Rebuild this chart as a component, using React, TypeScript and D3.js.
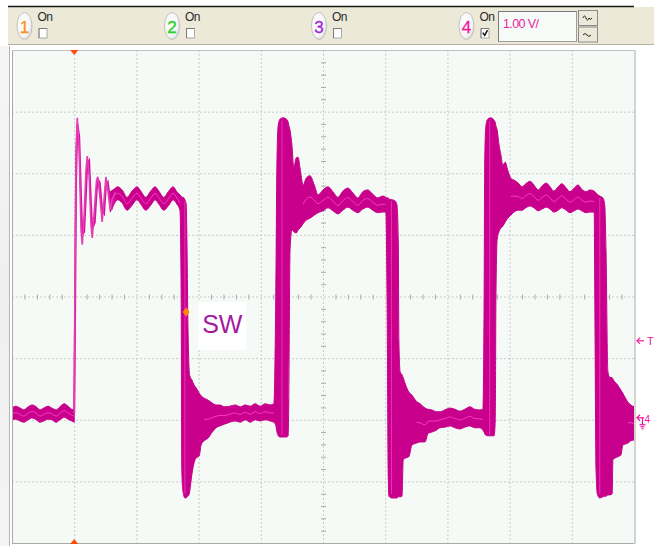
import React from "react";
import * as d3 from "d3";

// ---------- layout ----------
const W = 654;
const H = 546;
const plotLeft = 12;
const plotRight = 634;
const plotTop = 50;
const plotBottom = 543;

// ---------- axes (scope divisions: 10 horizontal, 8 vertical at 1.00 V/div) ----------
const timeDivs = [0, 1, 2, 3, 4, 5, 6, 7, 8, 9, 10];
const voltLevels = [-2, -1, 0, 1, 2, 3, 4, 5, 6];

// ---------- channel 4 data (time in divisions, volts) ----------
// low level before first switching edge (persistence band)
const lowT = [0.0, 0.06, 0.13, 0.19, 0.26, 0.32, 0.39, 0.45, 0.51, 0.58, 0.64, 0.71, 0.77, 0.84, 0.9, 0.96, 1.0];
const lowHi = [0.19, 0.22, 0.19, 0.16, 0.21, 0.24, 0.21, 0.16, 0.19, 0.22, 0.19, 0.16, 0.21, 0.26, 0.22, 0.17, 0.16];
const lowLo = [0.0, 0.01, -0.02, -0.04, 0.0, 0.03, 0.0, -0.04, -0.02, 0.01, 0.0, -0.04, 0.0, 0.04, 0.01, -0.02, -0.04];

// first rising edge: thin ringing traces
const ringT = [1.0, 1.01, 1.03, 1.05, 1.08, 1.11, 1.13, 1.16, 1.19, 1.21, 1.24, 1.27, 1.29, 1.33, 1.36, 1.38, 1.41, 1.45, 1.48, 1.51, 1.54, 1.58, 1.61, 1.66];
const ringA = [0.11, 1.94, 4.38, 4.9, 4.38, 3.08, 2.84, 3.32, 4.05, 4.28, 3.97, 3.16, 2.95, 3.48, 3.89, 3.94, 3.65, 3.21, 3.57, 3.94, 3.73, 3.4, 3.57, 3.7];
const ringB = [0.11, 1.2, 3.9, 4.8, 4.6, 3.6, 3.0, 3.05, 3.7, 4.15, 4.2, 3.5, 3.1, 3.2, 3.7, 3.9, 3.85, 3.4, 3.35, 3.8, 3.85, 3.55, 3.45, 3.6];

// persistence envelope from the first high level to the end of the record
const envT = [
  1.58, 1.64, 1.7, 1.77, 1.85, 1.93, 2.01, 2.07, 2.15, 2.23, 2.3, 2.36, 2.44, 2.52, 2.59, 2.65, 2.7,
  2.72, 2.73, 2.75, 2.78, 2.8, 2.81, 2.83, 2.85, 2.86, 2.89, 2.93, 2.96, 3.01, 3.04, 3.09, 3.15, 3.22,
  3.28, 3.34, 3.42, 3.5, 3.59, 3.67, 3.75, 3.83, 3.91, 3.99, 4.07, 4.15, 4.21,
  4.24, 4.26, 4.28, 4.31, 4.36, 4.41, 4.44, 4.45, 4.47, 4.5, 4.53, 4.57, 4.6, 4.63, 4.68, 4.73, 4.79,
  4.86, 4.92, 5.0, 5.08, 5.16, 5.24, 5.32, 5.4, 5.48, 5.56, 5.64, 5.72, 5.8, 5.88, 5.96, 6.01,
  6.03, 6.05, 6.06, 6.11, 6.16, 6.19, 6.21, 6.22, 6.24, 6.27, 6.29, 6.33, 6.38, 6.43, 6.5, 6.56,
  6.64, 6.69, 6.75, 6.82, 6.88, 6.96, 7.04, 7.12, 7.2, 7.28, 7.36, 7.44, 7.52, 7.57,
  7.59, 7.6, 7.62, 7.65, 7.7, 7.75, 7.77, 7.78, 7.8, 7.83, 7.86, 7.89, 7.93, 7.97, 8.02, 8.07,
  8.14, 8.2, 8.26, 8.33, 8.39, 8.46, 8.52, 8.59, 8.65, 8.71, 8.78, 8.84, 8.91, 8.97, 9.04, 9.1,
  9.16, 9.23, 9.29, 9.36, 9.37, 9.39, 9.41, 9.45, 9.5, 9.53, 9.55, 9.58, 9.61, 9.65, 9.66, 9.74,
  9.79, 9.82, 9.9, 9.95, 10.0,
];
const envHi = [
  3.7, 3.74, 3.78, 3.73, 3.61, 3.71, 3.78, 3.71, 3.61, 3.71, 3.78, 3.71, 3.61, 3.71, 3.78, 3.7, 3.65,
  3.63, 3.61, 3.61, 3.57, 3.5, 3.08, 1.46, 0.78, 0.71, 0.65, 0.56, 0.52, 0.43, 0.39, 0.35, 0.32, 0.27,
  0.24, 0.24, 0.21, 0.22, 0.24, 0.21, 0.24, 0.22, 0.26, 0.22, 0.26, 0.24, 0.26,
  1.94, 4.22, 4.78, 4.88, 4.9, 4.88, 4.83, 4.78, 4.7, 4.46, 4.09, 4.25, 4.26, 4.09, 3.81, 3.92, 3.96,
  3.81, 3.65, 3.73, 3.78, 3.7, 3.61, 3.71, 3.76, 3.68, 3.6, 3.7, 3.73, 3.66, 3.6, 3.63, 3.61,
  3.6, 3.6, 3.58, 3.57, 3.55, 3.48, 2.92, 1.29, 0.78, 0.73, 0.68, 0.56, 0.45, 0.4, 0.3, 0.26,
  0.19, 0.17, 0.16, 0.13, 0.13, 0.16, 0.19, 0.17, 0.14, 0.17, 0.21, 0.17, 0.16, 0.17,
  1.94, 4.22, 4.78, 4.88, 4.9, 4.86, 4.82, 4.77, 4.7, 4.46, 4.3, 4.13, 4.18, 4.05, 3.92, 3.89,
  3.84, 3.78, 3.83, 3.87, 3.81, 3.73, 3.79, 3.84, 3.78, 3.71, 3.78, 3.83, 3.76, 3.7, 3.76, 3.81,
  3.74, 3.7, 3.73, 3.71, 3.7, 3.68, 3.66, 3.63, 3.6, 3.48, 2.75, 0.78, 0.69, 0.68, 0.66, 0.56,
  0.48, 0.43, 0.29, 0.24, 0.21,
];
const envLo = [
  3.37, 3.5, 3.57, 3.52, 3.4, 3.48, 3.57, 3.5, 3.4, 3.48, 3.57, 3.5, 3.4, 3.48, 3.57, 3.5, 3.4,
  1.94, -0.82, -1.17, -1.27, -1.27, -1.25, -1.24, -1.2, -1.14, -0.9, -0.69, -0.62, -0.59, -0.41, -0.34, -0.3, -0.2,
  -0.13, -0.1, -0.07, -0.04, -0.02, -0.04, 0.0, -0.04, 0.0, -0.02, 0.0, -0.02, -0.04,
  -0.09, -0.2, -0.26, -0.28, -0.28, -0.28, -0.26, 0.32, 2.75, 3.08, 3.05, 3.03, 3.08, 3.11, 3.18, 3.24, 3.27,
  3.32, 3.36, 3.39, 3.44, 3.39, 3.34, 3.4, 3.45, 3.4, 3.36, 3.42, 3.45, 3.4, 3.36, 3.37, 3.37,
  1.94, -0.98, -1.24, -1.27, -1.27, -1.27, -1.25, -1.25, -1.25, -1.24, -0.65, -0.62, -0.6, -0.41, -0.38, -0.36,
  -0.36, -0.22, -0.2, -0.17, -0.13, -0.12, -0.1, -0.13, -0.15, -0.12, -0.1, -0.13, -0.13, -0.17,
  -0.2, -0.23, -0.25, -0.26, -0.26, -0.26, 0.0, 1.94, 2.92, 3.05, 3.11, 3.14, 3.21, 3.27, 3.32, 3.37,
  3.4, 3.4, 3.44, 3.47, 3.44, 3.39, 3.42, 3.45, 3.42, 3.37, 3.4, 3.44, 3.4, 3.36, 3.39, 3.42,
  3.39, 3.36, 3.37, 3.37, 1.94, -0.82, -1.2, -1.27, -1.25, -1.24, -1.24, -1.22, -1.22, -1.2, -0.65, -0.6,
  -0.57, -0.41, -0.38, -0.34, -0.33,
];

// faint single-shot edge traces inside the persistence band
const edgeT = [2.78, 4.34, 6.1, 7.68, 9.45];
const edgeTop = [3.55, 4.85, 3.55, 4.85, 3.6];
const edgeBottom = [-1.2, -0.25, -1.2, -0.25, -1.2];

// ---------- toolbar / annotations ----------
const channelNames = ["1", "2", "3", "4"];
const channelColors = ["#F7931E", "#1ED21E", "#A21FD8", "#F0169C"];
const channelOn = [false, false, false, true];
const channelCx = [24.5, 172, 319, 466.5];
const voltsPerDivLabel = "1.00 V/";
const probeLabel = "SW";
const probeT = 2.8;
const probeV = 1.75;
const triggerT = 1.0;
const triggerLevelV = 1.28;
const groundV = 0;

const FONT = "'Liberation Sans', Arial, sans-serif";
const BAND = "#C8008C";
const LIGHT = "#FF45CC";

export default function App() {
  const x = d3.scaleLinear().domain([0, 10]).range([plotLeft, plotRight]);
  const y = d3.scaleLinear().domain([-2, 6]).range([plotBottom, plotTop]);

  const lowIdx = lowT.map((_, i) => i);
  const envIdx = envT.map((_, i) => i);
  const ringIdx = ringT.map((_, i) => i);

  const lowArea = d3
    .area<number>()
    .x((i) => x(lowT[i]))
    .y0((i) => y(lowLo[i]))
    .y1((i) => y(lowHi[i]))
    .curve(d3.curveMonotoneX);
  const envArea = d3
    .area<number>()
    .x((i) => x(envT[i]))
    .y0((i) => y(envLo[i]))
    .y1((i) => y(envHi[i]))
    .curve(d3.curveMonotoneX);
  const lowMid = d3
    .line<number>()
    .x((i) => x(lowT[i]))
    .y((i) => y((lowHi[i] + lowLo[i]) / 2))
    .curve(d3.curveMonotoneX);
  const envMid = d3
    .line<number>()
    .defined((i) => envHi[i] - envLo[i] < 0.7)
    .x((i) => x(envT[i]))
    .y((i) => y((envHi[i] + envLo[i]) / 2))
    .curve(d3.curveMonotoneX);
  const ringLineA = d3
    .line<number>()
    .x((i) => x(ringT[i]))
    .y((i) => y(ringA[i]));
  const ringLineB = d3
    .line<number>()
    .x((i) => x(ringT[i]))
    .y((i) => y(ringB[i]));

  const xc = x(5);
  const yc = y(2);
  const minorT = d3.range(0, 10.001, 0.2);
  const minorV = d3.range(-2, 6.001, 0.2);

  const tx = x(triggerT);
  const px = x(probeT);
  const py = y(probeV);
  const ty = y(triggerLevelV);
  const gy = y(groundV);

  return (
    <svg
      width={W}
      height={H}
      viewBox={`0 0 ${W} ${H}`}
      style={{ position: "absolute", left: 0, top: 0, display: "block", background: "#fff" }}
      fontFamily={FONT}
    >
      <defs>
        <clipPath id="plotClip">
          <rect x={plotLeft} y={plotTop} width={plotRight - plotLeft} height={plotBottom - plotTop} />
        </clipPath>
        <radialGradient id="btnGrad" cx="0.4" cy="0.4" r="0.7">
          <stop offset="0" stopColor="#ffffff" />
          <stop offset="0.7" stopColor="#f4f4f4" />
          <stop offset="1" stopColor="#c8c8c8" />
        </radialGradient>
        <linearGradient id="leftStrip" x1="0" x2="0" y1="0" y2="1">
          <stop offset="0" stopColor="#f6f6f6" />
          <stop offset="0.5" stopColor="#efefef" />
          <stop offset="1" stopColor="#f4f4f4" />
        </linearGradient>
      </defs>

      {/* page frame */}
      <rect x={0} y={46} width={9} height={H - 46} fill="url(#leftStrip)" />
      <line x1={9.5} x2={9.5} y1={46} y2={H} stroke="#b4b4b4" />

      {/* toolbar */}
      <rect x={8} y={7} width={W - 8} height={37.5} fill="#ECE9D8" />
      <line x1={8} x2={634} y1={6.5} y2={6.5} stroke="#1a1a1a" strokeWidth={1.6} />
      <line x1={8} x2={W} y1={44.5} y2={44.5} stroke="#b5b2a4" />
      {channelNames.map((name, i) => {
        const cx = channelCx[i];
        return (
          <g key={name}>
            <ellipse cx={cx} cy={26} rx={7.5} ry={13.5} fill="url(#btnGrad)" stroke="#b8b8b8" strokeWidth={0.8} />
            <text x={cx} y={32.5} textAnchor="middle" fontSize={17} fill={channelColors[i]} stroke={channelColors[i]} strokeWidth={0.3}>
              {name}
            </text>
            <text x={cx + 13} y={21} fontSize={12} fill="#2a2a2a" letterSpacing={-0.6}>
              On
            </text>
            <rect x={cx + 14.5} y={28.5} width={8} height={9.5} fill="#fff" stroke="#9a9a9a" strokeWidth={0.8} />
            <path d={`M${cx + 14.5},38 V28.5 H${cx + 22.5}`} fill="none" stroke="#6d6d6d" strokeWidth={0.8} />
            {channelOn[i] && (
              <path
                d={`M${cx + 16.3},32.6 L${cx + 18.2},35.4 L${cx + 21},30.2`}
                fill="none"
                stroke="#111"
                strokeWidth={1.5}
              />
            )}
          </g>
        );
      })}
      {/* volts/div box */}
      <rect x={498.5} y={11.5} width={78} height={30} fill="#F7FBF7" stroke="#9c9c9c" />
      <path d="M498.5,41.5 V11.5 H576.5" fill="none" stroke="#7a7a7a" />
      <text x={503} y={28} fontSize={12.5} fill="#E8259E" letterSpacing={-0.6}>
        {voltsPerDivLabel}
      </text>
      {/* up/down buttons */}
      <rect x={578.5} y={10.5} width={19} height={15} fill="#ECE9D8" stroke="#8a8a8a" />
      <rect x={578.5} y={27} width={19} height={15} fill="#ECE9D8" stroke="#8a8a8a" />
      <path d="M583,18 q1.5,-4 3,0 t3,0 q1,3 3,0" fill="none" stroke="#222" strokeWidth={1} />
      <path d="M583,35 q2,-3 4,0 t4,0" fill="none" stroke="#222" strokeWidth={1} />

      {/* plot background */}
      <rect
        x={plotLeft}
        y={plotTop}
        width={plotRight - plotLeft}
        height={plotBottom - plotTop}
        fill="#F5FAF7"
      />

      {/* grid */}
      <g stroke="#c9ccc9" strokeWidth={1} strokeDasharray="2,2">
        {timeDivs.slice(1, -1).map((t) => (
          <line key={"vg" + t} x1={x(t) + 0.5} x2={x(t) + 0.5} y1={plotTop} y2={plotBottom} />
        ))}
        {voltLevels.slice(1, -1).map((v) => (
          <line key={"hg" + v} x1={plotLeft} x2={plotRight} y1={y(v) + 0.5} y2={y(v) + 0.5} />
        ))}
      </g>
      <g stroke="#a9aca9" strokeWidth={1}>
        {minorT.map((t, i) =>
          i % 5 === 0 ? null : (
            <line key={"mt" + i} x1={x(t) + 0.5} x2={x(t) + 0.5} y1={yc - 2} y2={yc + 3} />
          )
        )}
        {minorV.map((v, i) =>
          i % 5 === 0 ? null : (
            <line key={"mv" + i} x1={xc - 2} x2={xc + 3} y1={y(v) + 0.5} y2={y(v) + 0.5} />
          )
        )}
      </g>

      {/* waveform */}
      <g clipPath="url(#plotClip)">
        <path d={lowArea(lowIdx) || ""} fill={BAND} stroke={BAND} strokeWidth={1} />
        <path d={envArea(envIdx) || ""} fill={BAND} stroke={BAND} strokeWidth={1} strokeLinejoin="round" />
        <path d={lowMid(lowIdx) || ""} fill="none" stroke={LIGHT} strokeWidth={1} opacity={0.85} />
        <path d={envMid(envIdx) || ""} fill="none" stroke={LIGHT} strokeWidth={1} opacity={0.85} />
        {edgeT.map((t, i) => (
          <line
            key={"e" + i}
            x1={x(t)}
            x2={x(t)}
            y1={y(edgeTop[i])}
            y2={y(edgeBottom[i])}
            stroke={LIGHT}
            strokeWidth={1}
            opacity={0.7}
          />
        ))}
        <path d={ringLineB(ringIdx) || ""} fill="none" stroke="#D0129A" strokeWidth={2} />
        <path d={ringLineA(ringIdx) || ""} fill="none" stroke="#E83AB4" strokeWidth={1.6} />
      </g>

      {/* plot border */}
      <line x1={plotLeft + 0.5} x2={plotLeft + 0.5} y1={plotTop} y2={plotBottom + 1} stroke="#a8aaa8" />
      <line x1={plotLeft} x2={plotRight + 1} y1={plotTop + 0.5} y2={plotTop + 0.5} stroke="#c0c2c0" />
      <line x1={plotLeft} x2={plotRight + 1} y1={plotBottom + 0.5} y2={plotBottom + 0.5} stroke="#a8aaa8" />
      <line x1={plotRight + 1} x2={plotRight + 1} y1={plotTop} y2={plotBottom + 1} stroke="#d2d4d2" strokeWidth={2} />

      {/* trigger position markers */}
      <path d={`M${tx - 4},${plotTop} L${tx + 4},${plotTop} L${tx},${plotTop + 5} Z`} fill="#FF4A0A" />
      <path d={`M${tx - 4},${plotBottom + 1} L${tx + 4},${plotBottom + 1} L${tx},${plotBottom - 4} Z`} fill="#FF4A0A" />

      {/* probe annotation */}
      <path d={`M${px},${py - 4.5} L${px + 3.5},${py} L${px},${py + 4.5} L${px - 3.5},${py} Z`} fill="#FF8A00" />
      <rect x={px + 12} y={py - 10} width={48} height={48} fill="#ffffff" />
      <text x={px + 16} y={py + 21} fontSize={25} fill="#A3199F">
        {probeLabel}
      </text>

      {/* right-side markers: trigger level and ch4 ground */}
      <g stroke="#F0169C" fill="none" strokeWidth={1.2}>
        <line x1={637} x2={644} y1={ty} y2={ty} />
        <path d={`M640,${ty - 3} L637,${ty} L640,${ty + 3}`} />
        <line x1={637} x2={644} y1={gy - 2} y2={gy - 2} />
        <path d={`M640,${gy - 5} L637,${gy - 2} L640,${gy + 1}`} />
        <line x1={642.5} x2={642.5} y1={gy - 2} y2={gy + 5} />
        <line x1={639.5} x2={645.5} y1={gy + 5} y2={gy + 5} />
        <line x1={640.5} x2={644.5} y1={gy + 7} y2={gy + 7} />
        <line x1={641.5} x2={643.5} y1={gy + 9} y2={gy + 9} />
      </g>
      <text x={647} y={ty + 4} fontSize={11} fill="#F0169C">
        T
      </text>
      <text x={644.5} y={gy + 3} fontSize={10} fill="#F0169C">
        4
      </text>
    </svg>
  );
}
